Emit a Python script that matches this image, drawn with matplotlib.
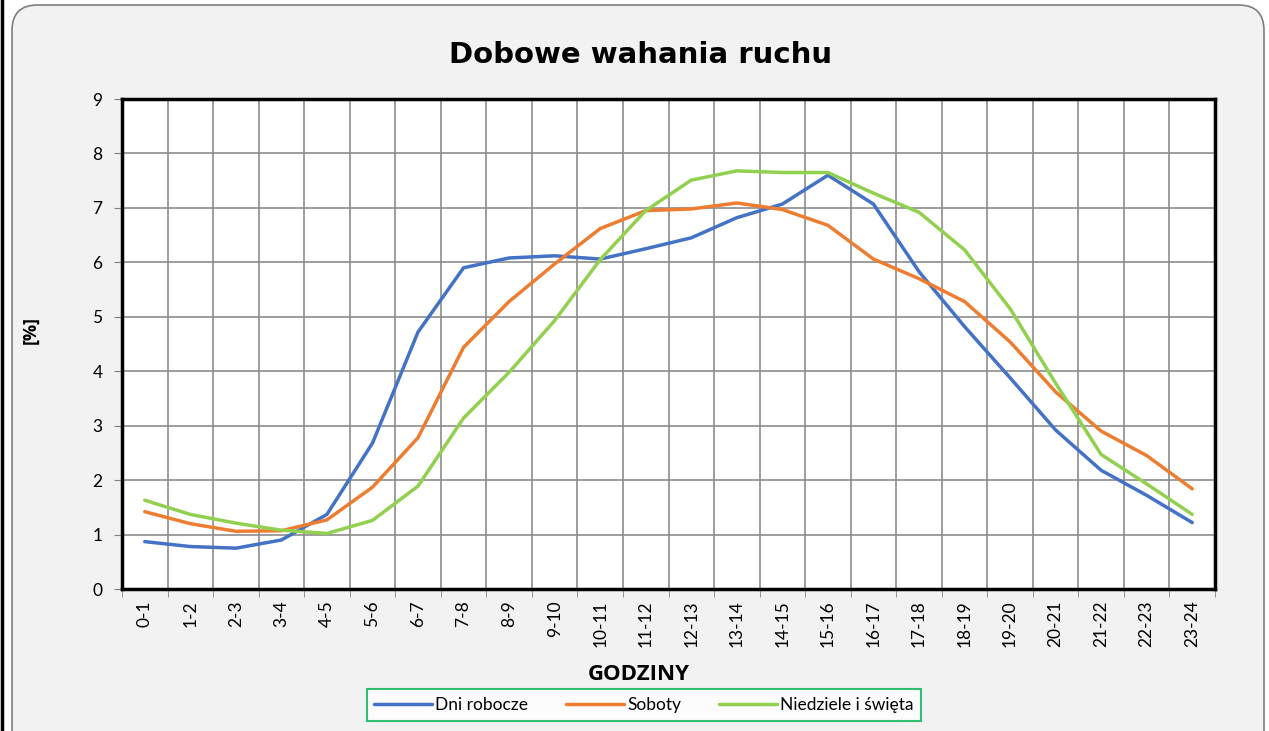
import matplotlib
matplotlib.use("Agg")
import matplotlib.pyplot as plt
from matplotlib.patches import FancyBboxPatch
from matplotlib.lines import Line2D

categories = ["0-1", "1-2", "2-3", "3-4", "4-5", "5-6", "6-7", "7-8", "8-9", "9-10",
              "10-11", "11-12", "12-13", "13-14", "14-15", "15-16", "16-17", "17-18",
              "18-19", "19-20", "20-21", "21-22", "22-23", "23-24"]
dni_robocze = [0.87, 0.78, 0.75, 0.90, 1.37, 2.68, 4.72, 5.90, 6.08, 6.12, 6.06, 6.25,
               6.45, 6.82, 7.07, 7.60, 7.07, 5.83, 4.82, 3.88, 2.92, 2.18, 1.72, 1.22]
soboty = [1.42, 1.20, 1.06, 1.07, 1.27, 1.87, 2.78, 4.44, 5.28, 5.97, 6.62, 6.95,
          6.98, 7.09, 6.97, 6.68, 6.06, 5.70, 5.28, 4.54, 3.62, 2.90, 2.45, 1.84]
niedziele = [1.63, 1.37, 1.21, 1.08, 1.02, 1.26, 1.89, 3.14, 3.98, 4.93, 6.05, 6.95,
             7.51, 7.68, 7.65, 7.65, 7.27, 6.92, 6.23, 5.15, 3.78, 2.47, 1.93, 1.37]
series_names = ["Dni robocze", "Soboty", "Niedziele i święta"]
colors = ["#4472C4", "#ED7D31", "#92D050"]
yticks = list(range(0, 10))

W, H = 1269, 731
fig = plt.figure(figsize=(W / 100, H / 100), dpi=100)
fig.patch.set_facecolor("white")

# outer rounded chart area
bg = FancyBboxPatch((12 / W, -30 / H), (1264 - 12) / W, (H + 30 - 5) / H,
                    boxstyle="round,pad=0,rounding_size=0.02",
                    transform=fig.transFigure, facecolor="#F2F2F2",
                    edgecolor="#7F7F7F", linewidth=1.2, mutation_aspect=W / H, zorder=0)
fig.add_artist(bg)
fig.add_artist(Line2D([2 / W, 2 / W], [0, 1], transform=fig.transFigure,
                      color="black", linewidth=2.5))

ax = fig.add_axes([122 / W, 1 - 589 / H, (1215 - 122) / W, (589 - 99) / H])
ax.set_facecolor("white")
x = list(range(len(categories)))
for vals, name, c in zip([dni_robocze, soboty, niedziele], series_names, colors):
    ax.plot(x, vals, color=c, linewidth=2.5, label=name, solid_capstyle="round", zorder=3)

ax.set_xlim(-0.5, len(categories) - 0.5)
ax.set_ylim(0, 9)
ax.set_yticks(yticks)
ax.set_yticklabels([str(v) for v in yticks], fontsize=12.5, family="Lato")
ax.set_xticks(x)
ax.set_xticklabels(categories, rotation=90, fontsize=12.5, family="Lato")
ax.set_xticks([i - 0.5 for i in range(len(categories) + 1)], minor=True)
ax.tick_params(axis="x", which="major", length=0, pad=8)
ax.tick_params(axis="x", which="minor", length=6, color="#808080")
ax.tick_params(axis="y", length=6, color="#808080", pad=8)
ax.grid(True, which="minor", axis="x", color="#8C8C8C", linewidth=1.2)
ax.grid(True, which="major", axis="y", color="#8C8C8C", linewidth=1.2)
for s in ax.spines.values():
    s.set_color("black")
    s.set_linewidth(2.5)

fig.text(641 / W, 1 - 55 / H, "Dobowe wahania ruchu", ha="center", va="center",
         fontsize=21, fontweight="bold", family="DejaVu Sans")
fig.text(31 / W, 1 - 330 / H, "[%]", ha="center", va="center", rotation=90,
         fontsize=13, fontweight="bold", family="Open Sans")
fig.text(639 / W, 1 - 674 / H, "GODZINY", ha="center", va="center",
         fontsize=16, fontweight="bold", family="Open Sans")

leg = fig.legend(loc="center", bbox_to_anchor=(644 / W, 1 - 705 / H), ncol=3,
                 frameon=True, fancybox=False, prop={"family": "Lato", "size": 12.5},
                 handlelength=3.3, handletextpad=0.2, columnspacing=2.2,
                 borderpad=0.45)
leg.get_frame().set_edgecolor("#00B050")
leg.get_frame().set_linewidth(1.5)
leg.get_frame().set_facecolor("white")

fig.savefig("out.png", dpi=100)
